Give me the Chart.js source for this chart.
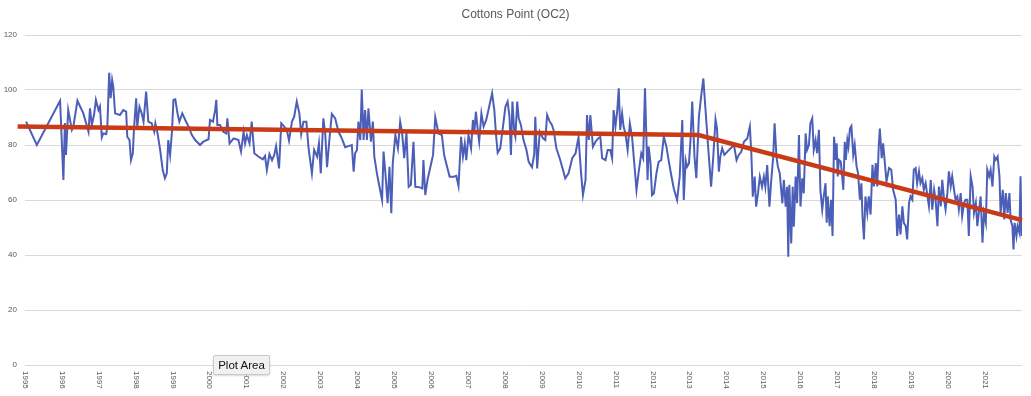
<!DOCTYPE html>
<html>
<head>
<meta charset="utf-8">
<script src="https://cdn.jsdelivr.net/npm/chart.js@4/dist/chart.umd.min.js"></script>
<style>
  html, body { margin: 0; padding: 0; background: #fff; }
  #wrap { position: relative; width: 1031px; height: 396px; }
  #tip { position: absolute; left: 213px; top: 355px; width: 55px; height: 18px;
         background: #f1f1f1; border: 1px solid #c8c8c8; border-radius: 2px;
         box-shadow: 0 1px 2px rgba(0,0,0,0.15);
         font: 11.5px "Liberation Sans", Arial, sans-serif; color: #111;
         line-height: 18px; text-align: center; }
</style>
</head>
<body>
<div id="wrap">
<canvas id="c" width="1031" height="396"></canvas>
<div id="tip">Plot Area</div>
</div>
<script>
const chartTitle = "Cottons Point (OC2)";
const yearLabels = ["1995","1996","1997","1998","1999","2000","2001","2002","2003","2004","2005","2006","2007","2008","2009","2010","2011","2012","2013","2014","2015","2016","2017","2018","2019","2020","2021"];
const yTickValues = [0, 20, 40, 60, 80, 100, 120];

const obsYears = [
1995.03,1995.32,1995.95,1996.04,1996.08,1996.11,1996.17,1996.27,1996.31,1996.42,1996.58,1996.72,1996.76,1996.81,1996.87,1996.92,1996.99,1997.03,1997.08,1997.12,1997.20,1997.23,1997.28,1997.32,1997.36,1997.39,1997.44,1997.57,1997.66,1997.74,1997.77,1997.83,1997.87,1997.92,1997.95,1998.01,1998.04,1998.10,1998.16,1998.21,1998.28,1998.34,1998.43,1998.50,1998.53,1998.59,1998.66,1998.73,1998.79,1998.84,1998.88,1998.93,1998.98,1999.02,1999.07,1999.13,1999.18,1999.26,1999.34,1999.43,1999.52,1999.61,1999.74,1999.83,1999.97,2000.01,2000.09,2000.15,2000.18,2000.21,2000.28,2000.37,
2000.45,2000.48,2000.54,2000.65,2000.78,2000.85,2000.92,2000.96,2001.01,2001.08,2001.14,2001.21,2001.32,2001.44,2001.50,2001.55,2001.62,2001.69,2001.75,2001.80,2001.88,2001.94,2002.02,2002.09,2002.15,2002.23,2002.29,2002.36,2002.43,2002.48,2002.54,2002.62,2002.68,2002.77,2002.83,2002.91,2002.96,2003.01,2003.08,2003.13,2003.18,2003.25,2003.31,2003.40,2003.49,2003.58,2003.67,2003.76,2003.85,2003.90,2003.94,2003.99,2004.03,2004.08,2004.12,2004.17,2004.21,2004.26,2004.30,2004.37,2004.42,2004.46,2004.53,2004.60,2004.67,2004.71,2004.76,2004.82,2004.87,2004.92,2004.96,2005.03,2005.10,2005.16,2005.21,2005.27,2005.33,2005.39,2005.45,2005.52,2005.57,2005.70,2005.76,2005.79,
2005.84,2005.90,2005.98,2006.05,2006.11,2006.20,2006.29,2006.35,2006.43,2006.50,2006.61,2006.68,2006.74,2006.81,2006.86,2006.91,2006.95,2007.01,2007.08,2007.13,2007.17,2007.21,2007.26,2007.30,2007.36,2007.42,2007.49,2007.56,2007.60,2007.65,2007.71,2007.76,2007.80,2007.87,2007.95,2008.01,2008.07,2008.12,2008.16,2008.20,2008.25,2008.28,2008.33,2008.37,2008.43,2008.50,2008.58,2008.64,2008.73,2008.79,2008.82,2008.87,2008.94,2009.03,2009.09,2009.14,2009.21,2009.27,2009.32,2009.39,2009.48,2009.57,2009.63,2009.72,2009.82,2009.91,2009.95,2009.99,2010.06,2010.11,2010.18,2010.22,2010.27,2010.31,2010.38,2010.45,2010.52,2010.58,2010.63,2010.72,2010.78,2010.85,2010.90,2010.94,2010.99,2011.04,2011.08,2011.12,2011.17,2011.21,
2011.26,2011.32,2011.38,2011.44,2011.50,2011.56,2011.62,2011.69,2011.74,2011.79,2011.83,2011.86,2011.89,2011.94,2011.98,2012.03,2012.10,2012.16,2012.23,2012.30,2012.37,2012.43,2012.50,2012.57,2012.66,2012.73,2012.80,2012.84,2012.89,2012.93,2012.98,2013.02,2013.07,2013.13,2013.18,2013.25,2013.31,2013.37,2013.43,2013.49,2013.54,2013.58,2013.64,2013.70,2013.74,2013.79,2013.83,2013.88,2013.94,2014.02,2014.11,2014.20,2014.27,2014.33,2014.40,2014.47,2014.56,2014.63,2014.67,2014.71,2014.76,2014.80,2014.85,2014.90,2014.96,2015.01,2015.05,2015.10,2015.16,2015.21,2015.26,2015.30,2015.35,2015.39,2015.44,2015.51,2015.55,2015.60,2015.64,2015.67,2015.70,2015.75,2015.79,2015.82,2015.87,2015.91,2015.96,2016.00,2016.05,2016.09,2016.14,2016.18,2016.23,2016.27,2016.32,2016.36,2016.41,2016.45,2016.50,2016.54,
2016.59,2016.63,2016.68,2016.71,2016.74,2016.79,2016.83,2016.87,2016.91,2016.95,2016.98,2017.01,2017.04,2017.09,2017.13,2017.16,2017.20,2017.23,2017.27,2017.30,2017.34,2017.38,2017.43,2017.47,2017.52,2017.56,2017.61,2017.65,2017.68,2017.72,2017.76,2017.81,2017.85,2017.90,2017.95,2017.99,2018.04,2018.08,2018.12,2018.15,2018.20,2018.24,2018.29,2018.33,2018.40,2018.46,2018.51,2018.58,2018.62,2018.67,2018.71,2018.76,2018.80,2018.85,2018.89,2018.94,2018.98,2019.03,2019.07,2019.12,2019.16,2019.21,2019.25,2019.30,2019.34,2019.39,2019.44,2019.48,2019.53,2019.57,2019.62,2019.66,2019.71,2019.75,2019.80,2019.84,2019.89,2019.93,2019.98,2020.02,2020.07,2020.11,2020.16,2020.20,2020.25,2020.29,2020.34,2020.38,2020.43,2020.47,2020.52,2020.56,2020.61,2020.66,2020.70,2020.75,2020.79,2020.84,2020.88,2020.93,2020.97,2021.02,2021.06,2021.11,2021.15,2021.20,2021.25,2021.29,2021.34,2021.39,2021.42,2021.48,2021.52,2021.56,2021.61,2021.66,2021.69,2021.74,2021.77,2021.80,2021.85,2021.88,2021.93,2021.96,2021.99,2022.00
];
const obsLevels = [
88.5,80.0,96.1,67.3,88.0,76.4,92.7,85.5,86.7,96.1,91.5,84.8,93.3,87.3,91.0,96.4,92.7,94.0,82.8,84.2,84.0,86.7,106.3,97.0,103.6,101.2,91.5,90.9,92.7,92.1,83.0,81.8,74.5,77.0,85.5,97.0,86.7,93.9,91.5,88.5,99.4,88.5,87.9,84.8,87.9,84.2,78.2,70.9,67.9,69.7,81.8,76.4,84.8,96.4,96.6,91.5,88.5,91.5,89.1,86.7,83.6,81.8,80.0,81.2,82.1,89.1,88.5,92.7,96.4,87.3,87.3,84.8,
84.2,89.7,80.6,82.4,81.8,77.6,84.8,80.6,83.6,80.6,88.5,77.0,75.8,74.8,76.0,70.9,76.7,74.5,76.4,79.6,71.5,87.9,86.7,85.5,81.6,88.5,90.3,95.8,91.5,84.0,88.5,88.5,78.8,69.7,78.2,75.8,80.6,69.7,89.7,84.2,71.9,83.0,91.3,89.7,84.8,82.4,79.2,79.6,80.0,70.3,77.0,78.2,88.5,81.8,100.2,81.8,92.7,81.8,93.3,81.2,88.5,75.8,69.7,64.8,60.0,77.6,69.7,58.8,72.1,55.2,73.3,83.6,78.8,88.5,84.8,75.2,84.5,64.8,65.5,81.2,64.8,64.6,64.2,74.5,
61.8,67.3,72.1,76.4,90.1,84.2,83.6,76.4,72.1,68.5,68.5,68.8,65.1,83.0,75.8,80.6,74.5,83.6,78.8,89.1,84.8,92.1,85.5,81.2,91.5,86.7,89.1,93.3,95.8,98.8,92.7,83.0,77.2,78.8,87.3,93.9,95.8,90.3,76.4,95.8,84.8,83.0,95.8,89.7,87.3,81.8,78.2,73.9,71.9,76.7,90.3,71.5,84.8,82.4,81.8,90.9,88.5,87.3,85.2,78.8,75.2,70.9,67.9,69.7,75.2,77.0,80.0,82.8,69.7,61.8,67.3,90.9,81.8,90.9,79.4,81.2,82.4,83.0,75.2,74.5,78.2,78.2,75.2,92.7,86.7,92.7,100.6,85.5,91.5,86.7,
84.2,78.2,87.9,83.0,73.3,63.6,70.3,77.0,75.2,100.6,81.8,67.3,79.4,73.3,61.8,62.4,69.7,73.9,74.5,83.0,79.4,74.5,69.1,64.2,60.0,68.5,89.1,60.0,74.5,72.1,73.3,81.2,95.8,75.8,67.9,90.3,97.6,104.2,92.7,81.2,72.1,64.8,75.8,89.3,86.1,70.3,75.8,78.8,76.4,77.6,78.8,80.0,74.5,76.4,77.6,81.2,82.4,86.7,77.0,61.2,68.5,57.6,62.4,68.5,64.8,68.5,64.8,72.7,57.6,67.3,75.2,87.9,75.8,72.1,69.7,58.8,67.3,57.6,64.8,39.4,65.5,44.2,64.8,50.3,68.5,58.8,83.6,57.6,67.9,62.4,84.2,78.2,80.0,87.9,89.7,78.2,81.8,77.0,85.5,63.6,
56.5,61.3,66.1,51.7,61.3,50.5,60.1,46.9,83.0,74.6,80.6,68.6,74.6,74.0,68.6,63.7,81.2,74.6,81.8,79.4,86.0,86.9,76.4,80.0,72.2,69.8,60.1,66.1,54.1,45.7,61.3,55.3,61.3,54.7,72.8,64.9,73.4,64.9,79.4,86.0,75.2,80.6,72.8,66.7,71.6,71.0,63.7,60.1,46.9,54.7,47.5,57.7,51.7,50.5,45.7,58.9,61.3,60.1,71.0,71.6,66.1,70.4,66.1,68.0,63.7,66.1,61.3,57.7,67.3,56.5,63.7,60.1,50.5,64.9,57.7,67.3,60.1,56.5,62.5,70.4,65.0,68.6,63.7,60.1,61.3,56.5,62.5,54.1,58.9,60.1,60.1,46.9,68.6,64.9,55.3,58.9,50.5,56.5,61.3,44.5,55.3,51.7,71.0,68.6,71.0,64.9,75.8,74.6,75.8,68.6,55.3,63.7,52.9,62.5,55.3,62.5,52.9,50.5,42.0,51.7,46.9,50.5,48.1,68.6,46.9,54.1
];

const trendYears = [1994.8, 2013.24, 2022.0];
const trendLevels = [86.7, 83.6, 52.7];

const obsPoints = obsYears.map((x, i) => ({ x: x, y: obsLevels[i] }));
const trendPoints = trendYears.map((x, i) => ({ x: x, y: trendLevels[i] }));

const decorPlugin = {
  id: 'decor',
  afterDraw(chart) {
    const ctx = chart.ctx;
    const xs = chart.scales.x;
    ctx.save();
    ctx.fillStyle = '#595959';
    ctx.font = '12px "Liberation Sans", Arial, sans-serif';
    ctx.textAlign = 'center';
    ctx.textBaseline = 'middle';
    ctx.fillText(chartTitle, chart.width / 2, 15);
    ctx.font = '8px "Liberation Sans", Arial, sans-serif';
    ctx.textAlign = 'left';
    yearLabels.forEach(lbl => {
      const px = xs.getPixelForValue(Number(lbl));
      ctx.save();
      ctx.translate(px, chart.chartArea.bottom + 6);
      ctx.rotate(Math.PI / 2);
      ctx.fillText(lbl, 0, 0);
      ctx.restore();
    });
    ctx.restore();
  }
};

new Chart(document.getElementById('c'), {
  type: 'line',
  data: {
    datasets: [
      { label: 'Trend', data: trendPoints, borderColor: '#C93A17', borderWidth: 4.5,
        pointRadius: 0, tension: 0, clip: false, fill: false },
      { label: 'Cottons Point (OC2)', data: obsPoints, borderColor: '#4C5FB8', borderWidth: 2,
        pointRadius: 0, tension: 0, fill: false }
    ]
  },
  options: {
    responsive: false,
    animation: false,
    devicePixelRatio: 1,
    layout: { padding: { top: 35, right: 9, left: 0, bottom: 0 } },
    plugins: { legend: { display: false }, tooltip: { enabled: false }, title: { display: false } },
    scales: {
      x: {
        type: 'linear', min: 1995, max: 2022,
        grid: { display: false }, border: { display: false },
        ticks: { display: false },
        afterFit: s => { s.height = 31; }
      },
      y: {
        min: 0, max: 120,
        afterBuildTicks: s => { s.ticks = yTickValues.map(v => ({ value: v })); },
        ticks: { color: '#595959', font: { size: 8, family: '"Liberation Sans", Arial, sans-serif' }, padding: 8 },
        grid: { color: '#d9d9d9', lineWidth: 1, drawTicks: false },
        border: { display: false },
        afterFit: s => { s.width = 25; }
      }
    }
  },
  plugins: [decorPlugin]
});
</script>
</body>
</html>
